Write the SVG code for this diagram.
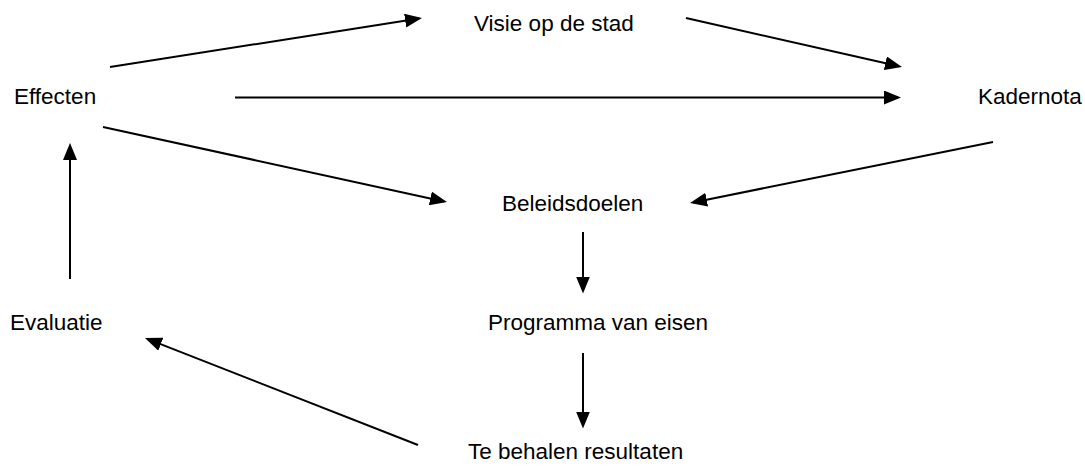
<svg xmlns="http://www.w3.org/2000/svg" width="1085" height="471" viewBox="0 0 1085 471">
<style>
text{font-family:"Liberation Sans",Arial,sans-serif;font-size:22.5px;fill:#000}
.c line{stroke:#000;stroke-width:2;fill:none;marker-end:url(#ah)}
</style>
<defs>
<marker id="ah" markerUnits="userSpaceOnUse" markerWidth="17" markerHeight="14" refX="14" refY="7" orient="auto">
<path d="M0,0 L17,7 L0,14 z" fill="#000"/>
</marker>
</defs>
<rect width="1085" height="471" fill="#fff"/>
<g id="n-visie"><text x="474" y="31">Visie op de stad</text></g>
<g id="n-effecten"><text x="14" y="103.5">Effecten</text></g>
<g id="n-kadernota"><text x="978" y="104">Kadernota</text></g>
<g id="n-beleidsdoelen"><text x="502" y="210.5">Beleidsdoelen</text></g>
<g id="n-evaluatie"><text x="10" y="330">Evaluatie</text></g>
<g id="n-programma"><text x="488" y="330">Programma van eisen</text></g>
<g id="n-resultaten"><text x="468" y="458.5">Te behalen resultaten</text></g>
<g id="connectors" class="c">
<line x1="110" y1="67" x2="419" y2="18.5"/>
<line x1="686" y1="18" x2="899" y2="66.3"/>
<line x1="235" y1="97.5" x2="898" y2="97.5"/>
<line x1="103" y1="127" x2="444" y2="201.4"/>
<line x1="993" y1="142" x2="693" y2="202.4"/>
<line x1="583" y1="232" x2="583" y2="290.5"/>
<line x1="583" y1="353" x2="583" y2="425.5"/>
<line x1="418" y1="445" x2="147.8" y2="339.1"/>
<line x1="70" y1="279" x2="70" y2="146"/>
</g>
</svg>
